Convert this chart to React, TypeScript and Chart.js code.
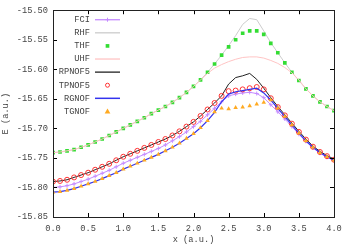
import React, { useEffect, useRef } from "react";
import { Chart, registerables } from "chart.js";
Chart.register(...registerables);

const X_VALUES = [0.0,0.1,0.2,0.3,0.4,0.5,0.6,0.7,0.8,0.9,1.0,1.1,1.2,1.3,1.4,1.5,1.6,1.7,1.8,1.9,2.0,2.1,2.2,2.3,2.4,2.5,2.6,2.7,2.8,2.9,3.0,3.1,3.2,3.3,3.4,3.5,3.6,3.7,3.8,3.9,4.0];

const FCI = [-15.800,-15.799,-15.797,-15.794,-15.790,-15.786,-15.781,-15.776,-15.771,-15.765,-15.759,-15.754,-15.749,-15.744,-15.739,-15.734,-15.728,-15.721,-15.714,-15.706,-15.697,-15.688,-15.677,-15.666,-15.655,-15.645,-15.642,-15.640,-15.639,-15.641,-15.648,-15.660,-15.672,-15.684,-15.697,-15.710,-15.722,-15.733,-15.742,-15.749,-15.754];
const RHF = [-15.741,-15.740,-15.738,-15.736,-15.732,-15.728,-15.723,-15.718,-15.712,-15.706,-15.700,-15.694,-15.688,-15.682,-15.675,-15.669,-15.663,-15.656,-15.648,-15.639,-15.629,-15.618,-15.605,-15.591,-15.576,-15.560,-15.543,-15.524,-15.514,-15.516,-15.535,-15.555,-15.572,-15.589,-15.605,-15.619,-15.633,-15.645,-15.655,-15.663,-15.670];
const THF = [-15.741,-15.740,-15.738,-15.736,-15.732,-15.728,-15.723,-15.718,-15.712,-15.706,-15.700,-15.694,-15.688,-15.682,-15.675,-15.669,-15.663,-15.656,-15.648,-15.639,-15.629,-15.618,-15.605,-15.591,-15.576,-15.562,-15.550,-15.539,-15.535,-15.535,-15.541,-15.556,-15.572,-15.589,-15.605,-15.619,-15.633,-15.645,-15.655,-15.663,-15.670];
const UHF = [-15.741,-15.740,-15.738,-15.736,-15.732,-15.728,-15.723,-15.718,-15.712,-15.706,-15.700,-15.694,-15.688,-15.682,-15.675,-15.669,-15.663,-15.656,-15.648,-15.639,-15.629,-15.618,-15.607,-15.598,-15.592,-15.587,-15.583,-15.580,-15.579,-15.579,-15.581,-15.585,-15.590,-15.597,-15.606,-15.618,-15.633,-15.645,-15.655,-15.663,-15.670];
const RPNOF5 = [-15.790,-15.789,-15.787,-15.783,-15.779,-15.775,-15.770,-15.765,-15.760,-15.754,-15.748,-15.743,-15.738,-15.733,-15.728,-15.723,-15.718,-15.712,-15.705,-15.697,-15.689,-15.679,-15.668,-15.657,-15.645,-15.625,-15.614,-15.611,-15.607,-15.617,-15.632,-15.648,-15.663,-15.677,-15.691,-15.705,-15.718,-15.730,-15.739,-15.746,-15.752];
const TPNOF5 = [-15.790,-15.789,-15.787,-15.783,-15.779,-15.775,-15.770,-15.765,-15.760,-15.754,-15.748,-15.743,-15.738,-15.733,-15.728,-15.723,-15.718,-15.712,-15.705,-15.697,-15.689,-15.679,-15.668,-15.657,-15.645,-15.637,-15.636,-15.634,-15.632,-15.630,-15.634,-15.649,-15.664,-15.678,-15.692,-15.706,-15.719,-15.731,-15.740,-15.747,-15.753];
const RGNOF = [-15.808,-15.807,-15.805,-15.802,-15.798,-15.794,-15.790,-15.785,-15.780,-15.775,-15.769,-15.764,-15.759,-15.754,-15.749,-15.744,-15.738,-15.732,-15.725,-15.717,-15.709,-15.699,-15.687,-15.673,-15.655,-15.642,-15.638,-15.636,-15.634,-15.632,-15.640,-15.652,-15.666,-15.680,-15.694,-15.708,-15.721,-15.732,-15.741,-15.748,-15.754];
const TGNOF = [-15.808,-15.807,-15.805,-15.802,-15.798,-15.794,-15.790,-15.785,-15.780,-15.775,-15.769,-15.764,-15.759,-15.754,-15.749,-15.744,-15.738,-15.732,-15.725,-15.717,-15.709,-15.699,-15.687,-15.672,-15.666,-15.667,-15.665,-15.664,-15.662,-15.659,-15.656,-15.652,-15.666,-15.680,-15.694,-15.708,-15.721,-15.732,-15.741,-15.748,-15.754];

const X_TICKS = [0, 0.5, 1, 1.5, 2, 2.5, 3, 3.5, 4];
const Y_TICKS = [-15.85, -15.8, -15.75, -15.7, -15.65, -15.6, -15.55, -15.5];
const X_TITLE = "x (a.u.)";
const Y_TITLE = "E (a.u.)";

const FONT = "'Liberation Mono', monospace";
const FONT_SIZE = 8.7;
const TEXT_COLOR = "#444";

type Series = {
  label: string;
  values: number[];
  color: string;
  line: boolean;
  lineWidth: number;
  point: false | "cross" | "rect" | "circle" | "triangle";
  radius: number;
  fill: boolean;
};

const SERIES: Series[] = [
  { label: "FCI", values: FCI, color: "#c58cff", line: true, lineWidth: 1, point: "cross", radius: 2, fill: false },
  { label: "RHF", values: RHF, color: "#cccccc", line: true, lineWidth: 1, point: false, radius: 0, fill: false },
  { label: "THF", values: THF, color: "#33dd33", line: false, lineWidth: 1, point: "rect", radius: 2.6, fill: true },
  { label: "UHF", values: UHF, color: "#ffc4c4", line: true, lineWidth: 1, point: false, radius: 0, fill: false },
  { label: "RPNOF5", values: RPNOF5, color: "#222222", line: true, lineWidth: 1, point: false, radius: 0, fill: false },
  { label: "TPNOF5", values: TPNOF5, color: "#ff3333", line: false, lineWidth: 1, point: "circle", radius: 2.5, fill: false },
  { label: "RGNOF", values: RGNOF, color: "#3333ee", line: true, lineWidth: 1.2, point: false, radius: 0, fill: false },
  { label: "TGNOF", values: TGNOF, color: "#ffaa22", line: false, lineWidth: 1, point: "triangle", radius: 2.6, fill: true },
];

function drawMarker(ctx: CanvasRenderingContext2D, s: Series, x: number, y: number) {
  if (!s.point) return;
  const r = s.radius;
  ctx.save();
  ctx.strokeStyle = s.color;
  ctx.fillStyle = s.color;
  ctx.lineWidth = 1;
  ctx.beginPath();
  if (s.point === "cross") {
    ctx.moveTo(x - r, y); ctx.lineTo(x + r, y);
    ctx.moveTo(x, y - r); ctx.lineTo(x, y + r);
    ctx.stroke();
  } else if (s.point === "rect") {
    const h = r * Math.SQRT1_2;
    ctx.rect(x - h, y - h, 2 * h, 2 * h);
    ctx.fill();
  } else if (s.point === "circle") {
    ctx.arc(x, y, r * 0.8, 0, Math.PI * 2);
    ctx.stroke();
  } else if (s.point === "triangle") {
    ctx.moveTo(x, y - r * 1.1);
    ctx.lineTo(x + r * 1.1, y + r * 0.8);
    ctx.lineTo(x - r * 1.1, y + r * 0.8);
    ctx.closePath();
    ctx.fill();
  }
  ctx.restore();
}

const framePlugin = {
  id: "frame",
  afterDatasetsDraw(chart: any) {
    const { ctx, chartArea } = chart;
    const xs = chart.scales.x;
    const ys = chart.scales.y;
    const { left, right, top, bottom } = chartArea;
    ctx.save();
    ctx.strokeStyle = "#000";
    ctx.lineWidth = 1;
    const tl = 4;
    ctx.beginPath();
    X_TICKS.forEach((v) => {
      const px = Math.round(xs.getPixelForValue(v)) + 0.5;
      ctx.moveTo(px, bottom); ctx.lineTo(px, bottom - tl);
      ctx.moveTo(px, top); ctx.lineTo(px, top + tl);
    });
    Y_TICKS.forEach((v) => {
      const py = Math.round(ys.getPixelForValue(v)) + 0.5;
      ctx.moveTo(left, py); ctx.lineTo(left + tl, py);
      ctx.moveTo(right, py); ctx.lineTo(right - tl, py);
    });
    ctx.stroke();
    ctx.strokeStyle = "#222";
    ctx.strokeRect(Math.round(left) + 0.5, Math.round(top) + 0.5, Math.round(right - left), Math.round(bottom - top));

    // legend
    ctx.font = `${FONT_SIZE}px ${FONT}`;
    ctx.textAlign = "right";
    ctx.textBaseline = "middle";
    SERIES.forEach((s, i) => {
      const y = top + 9.5 + i * 13.1;
      ctx.fillStyle = TEXT_COLOR;
      ctx.fillText(s.label, left + 37, y);
      const x0 = left + 42;
      const x1 = left + 67;
      if (s.line) {
        ctx.save();
        ctx.strokeStyle = s.color;
        ctx.lineWidth = s.lineWidth + 0.3;
        ctx.beginPath();
        ctx.moveTo(x0, y); ctx.lineTo(x1, y);
        ctx.stroke();
        ctx.restore();
      }
      drawMarker(ctx, s, (x0 + x1) / 2, y);
    });
    ctx.restore();
  },
};

export default function App() {
  const ref = useRef<HTMLCanvasElement | null>(null);
  useEffect(() => {
    if (!ref.current) return;
    const datasets = SERIES.map((s, i) => ({
      label: s.label,
      data: X_VALUES.map((x, j) => ({ x, y: s.values[j] })),
      borderColor: s.color,
      backgroundColor: s.fill ? s.color : "rgba(0,0,0,0)",
      borderWidth: s.lineWidth,
      showLine: s.line,
      pointStyle: s.point === false ? false : s.point,
      pointRadius: s.point ? s.radius : 0,
      pointBorderWidth: s.point === "circle" || s.point === "cross" ? 1 : 0,
      pointBorderColor: s.color,
      pointBackgroundColor: s.fill ? s.color : "rgba(0,0,0,0)",
      tension: 0,
      order: SERIES.length - i,
    }));
    const chart = new Chart(ref.current, {
      type: "scatter",
      data: { datasets: datasets as any },
      options: {
        animation: false,
        responsive: false,
        maintainAspectRatio: false,
        layout: { padding: { top: 9, right: 16, left: 0, bottom: 0 } },
        plugins: { legend: { display: false }, tooltip: { enabled: false } },
        scales: {
          x: {
            type: "linear",
            min: 0,
            max: 4,
            afterBuildTicks: (scale: any) => { scale.ticks = X_TICKS.map((v) => ({ value: v })); },
            afterFit: (scale: any) => { scale.height = 28; },
            grid: { display: false, drawTicks: false },
            border: { display: false },
            ticks: {
              color: TEXT_COLOR,
              font: { family: FONT, size: FONT_SIZE },
              padding: 6,
              maxRotation: 0,
              callback: (v: any) => Number(v).toFixed(1),
            },
            title: { display: true, text: X_TITLE, color: TEXT_COLOR, font: { family: FONT, size: FONT_SIZE }, padding: { top: 1, bottom: 0 } },
          },
          y: {
            type: "linear",
            min: -15.85,
            max: -15.5,
            afterBuildTicks: (scale: any) => { scale.ticks = Y_TICKS.map((v) => ({ value: v })); },
            afterFit: (scale: any) => { scale.width = 53; },
            grid: { display: false, drawTicks: false },
            border: { display: false },
            ticks: {
              color: TEXT_COLOR,
              font: { family: FONT, size: FONT_SIZE },
              padding: 5,
              callback: (v: any) => Number(v).toFixed(2),
            },
            title: { display: true, text: Y_TITLE, color: TEXT_COLOR, font: { family: FONT, size: FONT_SIZE }, padding: { top: 0, bottom: 0 } },
          },
        },
      },
      plugins: [framePlugin],
    });
    return () => chart.destroy();
  }, []);
  return (
    <div style={{ position: "fixed", left: 0, top: 0, width: 350, height: 245, background: "#fff" }}>
      <canvas ref={ref} width={350} height={245} style={{ width: 350, height: 245 }} />
    </div>
  );
}
